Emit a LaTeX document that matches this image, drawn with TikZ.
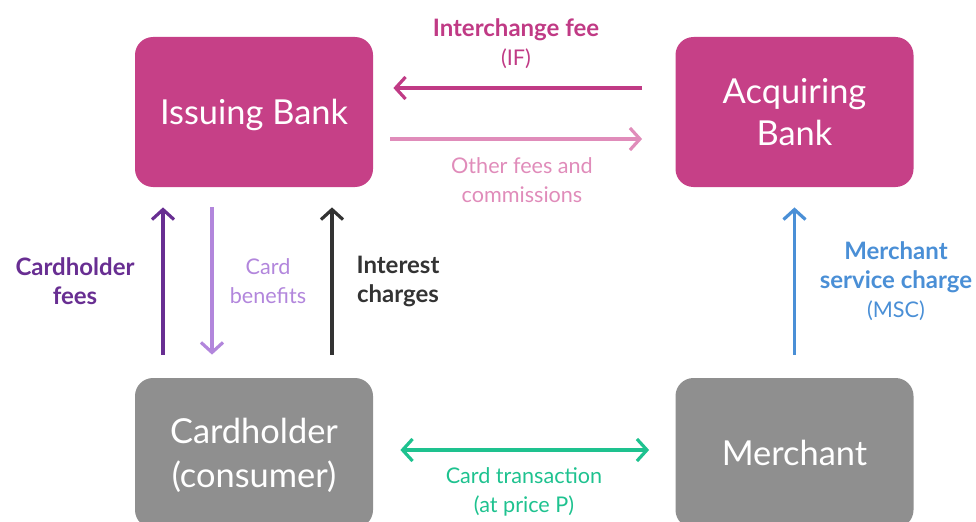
\documentclass[tikz,border=0pt]{standalone}
\usepackage{fontspec}
\setmainfont{Lato}
\usetikzlibrary{arrows.meta,calc}

\definecolor{bankpink}{RGB}{198,64,135}
\definecolor{partygray}{RGB}{143,143,143}
\definecolor{ifpink}{RGB}{192,58,133}
\definecolor{otherpink}{RGB}{224,140,186}
\definecolor{feepurple}{RGB}{104,46,146}
\definecolor{benefitpurple}{RGB}{178,134,220}
\definecolor{interestgray}{RGB}{51,51,51}
\definecolor{mscblue}{RGB}{74,143,214}
\definecolor{txgreen}{RGB}{30,194,143}

\newcommand{\boldlbl}[1]{{\fontsize{12}{14.5}\selectfont\bfseries #1}}

\tikzset{
    bank/.style = {fill=bankpink, rounded corners=9pt, minimum width=119pt,
        minimum height=75pt, text=white, align=center,
        font=\fontsize{17.2}{21}\selectfont},
    party/.style = {bank, fill=partygray, font=\fontsize{17.2}{22}\selectfont},
    barb/.tip = {Straight Barb[length=5pt, width=11pt]},
    flow/.style = {line width=1.6pt, -barb},
    lbl/.style = {align=center, font=\fontsize{10.8}{14.5}\selectfont},
}

\begin{document}
\begin{tikzpicture}[x=0.5pt, y=0.5pt]
    \useasboundingbox (0, 0) rectangle (976, 521);

    % the four parties
    \node [bank, text depth=0pt] (iss) at (254, 409) {Issuing Bank};
    \node [bank, text depth=0pt] (acq) at (794.5, 409) {Acquiring\\Bank};
    \node [party, text depth=0pt] (card) at (254, 68) {Cardholder\\(consumer)};
    \node [party] (merch) at (794.5, 68) {Merchant};

    % between the banks
    \draw [flow, ifpink] ($(acq.west)+(-33, 24)$) -- ($(iss.east)+(20, 24)$);
    \draw [flow, otherpink] ($(iss.east)+(17, -27)$) -- ($(acq.west)+(-33, -27)$);

    \node [lbl, ifpink] (iflbl) at (516, 477) {\boldlbl{Interchange fee}\\(IF)};
    \node [lbl, otherpink] (otherlbl) at (522, 341) {Other fees and\\commissions};

    % cardholder and issuer
    \draw [flow, feepurple] ($(card.north)+(-91, 23)$) -- ($(iss.south)+(-91, -20)$);
    \draw [flow, benefitpurple] ($(iss.south)+(-42, -20)$) -- ($(card.north)+(-42, 23)$);
    \draw [flow, interestgray] ($(card.north)+(78, 23)$) -- ($(iss.south)+(78, -20)$);

    \node [lbl, feepurple] (feelbl) at (75, 240) {\boldlbl{Cardholder}\\\boldlbl{fees}};
    \node [lbl, benefitpurple] (benlbl) at (268, 240) {Card\\benefits};
    \node [lbl, interestgray] (intlbl) at (398, 240) {\boldlbl{Interest}\\\boldlbl{charges}};

    % merchant and acquirer
    \draw [flow, mscblue] ($(merch.north)+(0, 23)$) -- ($(acq.south)+(0, -20)$);
    \node [lbl, mscblue] (msclbl) at (896, 240) {\boldlbl{Merchant}\\\boldlbl{service charge}\\(MSC)};

    % the sale itself
    \draw [flow, txgreen, barb-barb] ($(card.east)+(27, 3)$) -- ($(merch.west)+(-26, 3)$);
    \node [lbl, txgreen] (txlbl) at (524, 29) {Card transaction\\(at price P)};
\end{tikzpicture}
\end{document}
